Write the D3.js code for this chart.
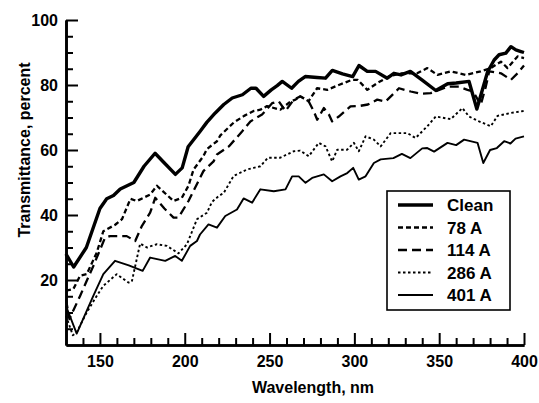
<!DOCTYPE html>
<html>
<head>
<meta charset="utf-8">
<script src="https://d3js.org/d3.v7.min.js"></script>
<style>
body { margin: 0; background: #fff; }
text { font-family: "Liberation Sans", Arial, Helvetica, sans-serif; font-weight: bold; fill: #000; }
</style>
</head>
<body>
<script>
//legend labels, same order as the series below
var seriesNames = ["Clean", "78 A", "114 A", "286 A", "401 A"];

//[wavelength nm, transmittance percent]
var clean = [[130,28],[134.5,24],[142,30],[150,42],[154,45],[158,46],[162,48],[170,50],[176,55],[182.5,59],[188,56],[194.5,52.5],[198.5,54.5],[202,61],[209,65.7],[213,68.5],[218,71.4],[223,74],[228,76],[234,77],[239,79],[242,79],[246.5,76.5],[251,78.5],[254.5,79.8],[257.5,81.1],[263,79],[267,81.1],[271,82.6],[278,82.3],[283,82.1],[287,84.5],[293,83.4],[299,82.6],[302.7,86],[307.6,84.2],[312.5,84.2],[319.4,82.1],[323.3,83.6],[327.5,83.1],[333,84.2],[340,81.5],[348,78.3],[355,80.4],[360,80.6],[367.6,81.1],[372.2,72.6],[378.5,84],[382.4,87.7],[385.3,89.3],[389.3,89.8],[392.3,91.8],[395.2,90.8],[398.2,90.3],[400,90]];

var a78 = [[130,16.7],[134.3,17.2],[138.3,21.3],[142.2,21.8],[148.1,28.4],[152,35],[159,37],[163,38.7],[168,45],[171.7,44.3],[179.6,46.3],[183.6,49],[193.4,44.3],[198.3,45.3],[202.2,49],[205.2,54],[211,58.1],[213.1,60.3],[219,62.7],[221,64.5],[229,68.5],[235,70.5],[240.6,72],[244.6,72.4],[248.5,73.5],[256.4,72.4],[262.3,74.9],[265.3,75.5],[268.2,76.5],[273,75],[278,79],[284,78.5],[290.8,80],[298.7,81.6],[302,81.6],[307.6,78.5],[313.5,80.6],[320.3,82.6],[327.3,83.6],[337,83.6],[343,85.2],[349,83.1],[356.8,84.2],[365.7,83.1],[374.5,84.2],[380.4,85.2],[386.4,87.2],[390.3,85.2],[396.2,88.8],[400,88.3]];

var a114 = [[130,14],[132,8],[138.3,15.1],[146.1,24.3],[153,33],[156,33.5],[165.8,33.5],[170.8,32],[174.7,36.6],[179.6,40.7],[182.6,45.3],[188,42],[193.4,39.2],[196.3,39.2],[202.2,44.3],[211,53.5],[217,56.5],[219,58.6],[226,61.1],[233.8,65.7],[238.7,68.8],[245.6,70.9],[251.5,74.4],[255.4,75],[259.4,72],[264.3,75.5],[268.2,76.5],[273.1,74.9],[276.1,71.9],[278.1,69.3],[282,72.9],[285,70.9],[286.9,68.8],[290.8,70.3],[297.7,73.4],[303.6,73.6],[308,74],[313.5,75.5],[318.4,74.9],[326.3,79],[333.2,78],[339,77.3],[345,77.5],[350,78.5],[354.9,79.5],[361.7,79.5],[366.7,78.5],[370,78],[374.5,73.9],[377.5,79.5],[379.5,84.2],[386.4,83.6],[392.3,81.6],[396.2,83.6],[400,86]];

var a286 = [[130,9],[134,3],[136.3,3.9],[142.2,10],[148.1,15.1],[152,18.2],[159.9,21.8],[162,21],[166.8,19.2],[168.8,19.5],[173.7,31.2],[177.7,30],[183.6,31],[189.5,30.5],[196.3,28.2],[201.3,31],[207.2,38.7],[213.1,40.7],[216,44],[220,45.8],[223,46.8],[228.8,52],[236.7,54],[240.6,54.5],[244.6,55],[249,57.6],[256,57.6],[260.3,58.6],[264.2,59.6],[268,59.8],[273.1,58.1],[279,62.2],[283,61.1],[286.9,56.5],[289.9,60.1],[295.8,60.1],[299.7,62.2],[302.6,59.6],[306.6,64.2],[311.5,63.2],[315.5,61.1],[321.4,65.2],[331.2,65.2],[336.1,63.7],[343,67.3],[348,70.3],[356.8,69.5],[363.7,72.9],[367.6,70.3],[373.5,68.8],[380.4,67.3],[384.4,70.5],[392.3,71.4],[400,72]];

var a401 = [[130,12],[136.3,3.5],[146.1,15.1],[152,21.8],[158.9,25.9],[167,24.5],[175.2,22.8],[179.6,26.9],[188.5,25.9],[194.4,27.4],[198.3,25.9],[203.2,30.5],[207.2,32],[209,34],[214,37.1],[219,36.1],[223.9,39.7],[230.8,41.7],[234.7,45.1],[239.7,43.8],[244.6,47.9],[252.5,47.3],[259.4,47.9],[263.3,51.9],[267.2,51.9],[271.2,49.9],[275.1,51.4],[282,52.5],[286.9,50.4],[291.8,51.9],[295.8,52.9],[299.3,54.5],[302.6,50.9],[306.6,51.9],[311.5,56],[315.5,57.1],[323,57.5],[328,58.8],[333,57.5],[340,60.5],[343,60.6],[347,59.5],[354.9,62.2],[360,61.5],[364.7,63.2],[372.6,62.2],[376,56],[380,60],[384,60.6],[388.3,62.7],[392,62],[395,63.5],[400,64.2]];

//axis ticks
var xMajor = [150, 200, 250, 300, 350, 400];
var xMinor = [140, 160, 170, 180, 190, 210, 220, 230, 240, 260, 270, 280, 290, 310, 320, 330, 340, 360, 370, 380, 390];
var yMajor = [20, 40, 60, 80, 100];
var yMinor = [5, 10, 15, 25, 30, 35, 45, 50, 55, 65, 70, 75, 85, 90, 95];

drawChart();

function drawChart(){

    var width = 539,
        height = 403;

    var svg = d3.select("body")
        .append("svg")
        .attr("width", width)
        .attr("height", height);

    //plot frame, picked to line up with the scan
    var x = d3.scaleLinear().domain([130, 400]).range([66, 524]);
    var y = d3.scaleLinear().domain([0, 100]).range([345, 20]);

    //line looks for each series
    var styles = [
        {data: clean, w: 3.4, dash: null},
        {data: a78, w: 2.3, dash: "5,3"},
        {data: a114, w: 2.3, dash: "9,5"},
        {data: a286, w: 1.9, dash: "2.5,2.5"},
        {data: a401, w: 1.9, dash: null}
    ];

    var line = d3.line()
        .x(function(d){ return x(d[0]); })
        .y(function(d){ return y(d[1]); });

    svg.selectAll(".series")
        .data(styles)
        .enter()
        .append("path")
        .attr("class", "series")
        .attr("d", function(d){ return line(d.data); })
        .attr("fill", "none")
        .attr("stroke", "#000")
        .attr("stroke-width", function(d){ return d.w; })
        .attr("stroke-dasharray", function(d){ return d.dash; })
        .attr("stroke-linejoin", "round");

    //minor ticks first (no labels), then the labelled majors
    svg.append("g")
        .attr("transform", "translate(0," + y(0) + ")")
        .call(d3.axisBottom(x).tickValues(xMinor).tickSize(-7).tickSizeOuter(0).tickFormat(""));
    svg.append("g")
        .attr("transform", "translate(0," + y(0) + ")")
        .call(d3.axisBottom(x).tickValues(xMajor).tickSize(-12).tickSizeOuter(0).tickPadding(10.5));

    svg.append("g")
        .attr("transform", "translate(" + x(130) + ",0)")
        .call(d3.axisLeft(y).tickValues(yMinor).tickSize(-7).tickSizeOuter(0).tickFormat(""));
    svg.append("g")
        .attr("transform", "translate(" + x(130) + ",0)")
        .call(d3.axisLeft(y).tickValues(yMajor).tickSize(-12).tickSizeOuter(0).tickPadding(8));

    svg.selectAll(".domain").attr("stroke-width", 2.6);
    svg.selectAll(".tick line").attr("stroke-width", 2);
    svg.selectAll(".tick text")
        .style("font-size", "16px")
        .style("font-family", "'Liberation Sans', Arial, sans-serif")
        .style("font-weight", "bold");

    //axis titles
    svg.append("text")
        .attr("x", 313)
        .attr("y", 393)
        .attr("text-anchor", "middle")
        .style("font-size", "16px")
        .text("Wavelength, nm");

    svg.append("text")
        .attr("transform", "translate(30,150) rotate(-90)")
        .attr("text-anchor", "middle")
        .style("font-size", "16px")
        .text("Transmittance, percent");

    //legend box
    var legend = svg.append("g");
    legend.append("rect")
        .attr("x", 387)
        .attr("y", 191)
        .attr("width", 123)
        .attr("height", 119)
        .attr("fill", "#fff")
        .attr("stroke", "#000")
        .attr("stroke-width", 1.6);

    var rows = legend.selectAll(".row")
        .data(styles)
        .enter()
        .append("g")
        .attr("class", "row")
        .attr("transform", function(d, i){ return "translate(0," + (205 + i * 22.5) + ")"; });

    rows.append("line")
        .attr("x1", 398)
        .attr("x2", 433)
        .attr("stroke", "#000")
        .attr("stroke-width", function(d){ return d.w; })
        .attr("stroke-dasharray", function(d){ return d.dash; });

    rows.append("text")
        .attr("x", 447)
        .attr("dy", "0.36em")
        .style("font-size", "17px")
        .text(function(d, i){ return seriesNames[i]; });
}
</script>
</body>
</html>
